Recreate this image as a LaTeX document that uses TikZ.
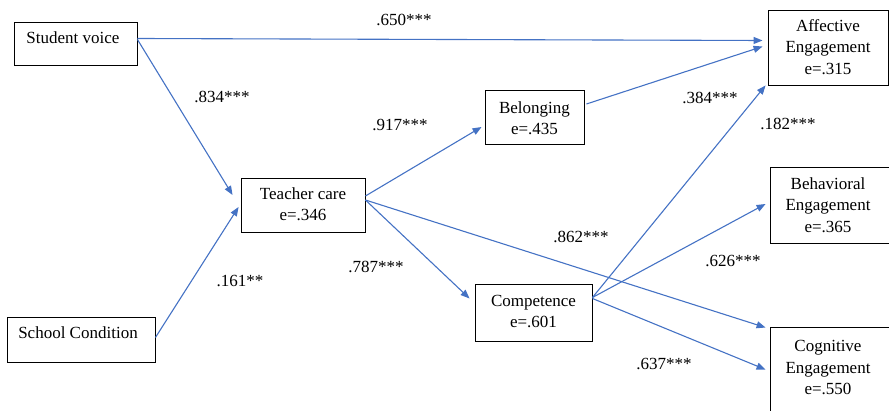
\documentclass[tikz,border=0pt]{standalone}
\usepackage{fontspec}
\setmainfont{Liberation Serif}
\usetikzlibrary{arrows.meta}
\definecolor{arrowblue}{HTML}{4472C4}
\tikzset{
  box/.style={draw=black, line width=0.9pt, rectangle, inner sep=0pt},
  txt/.style={inner sep=0pt, align=center, font=\fontsize{17}{21.5}\selectfont},
  coef/.style={inner sep=0pt, font=\fontsize{17}{21.5}\selectfont},
  path/.style={draw=arrowblue, line width=1.1pt, -{Triangle[length=9pt,width=7pt]}},
}
\begin{document}
\begin{tikzpicture}[x=1pt,y=-1pt]
\useasboundingbox (0,0) rectangle (889,411);
% boxes
\node[box, minimum width=123pt, minimum height=43pt] (sv) at (75.5,43.5) {};
\node[txt] (svt) at (73,38) {Student voice};
\node[box, minimum width=148pt, minimum height=45pt] (sc) at (81,339.5) {};
\node[txt] (sct) at (78,333) {School Condition};
\node[box, minimum width=124pt, minimum height=54pt] (tc) at (303,205) {};
\node[txt] (tct) at (303,204) {Teacher care\\e=.346};
\node[box, minimum width=99pt, minimum height=54pt] (bel) at (534.5,117) {};
\node[txt] (belt) at (534.5,118) {Belonging\\e=.435};
\node[box, minimum width=117pt, minimum height=57pt] (comp) at (533.5,312.5) {};
\node[txt] (compt) at (533.5,311.5) {Competence\\e=.601};
\node[box, minimum width=120pt, minimum height=75pt] (aff) at (828,47.5) {};
\node[txt] (afft) at (828,47) {Affective\\Engagement\\e=.315};
\node[box, minimum width=130pt, minimum height=76pt] (beh) at (835,205) {};
\node[txt] (beht) at (828,205) {Behavioral\\Engagement\\e=.365};
\node[box, minimum width=130pt, minimum height=100pt] (cog) at (835,377) {};
\node[txt] (cogt) at (828,367.5) {Cognitive\\Engagement\\e=.550};
% connectors
\draw[path] ([yshift=5pt]sv.east) -- ([xshift=-5pt,yshift=7pt]aff.west);
\draw[path] ([yshift=4pt]sv.east) -- ([xshift=-8pt,yshift=10pt]tc.west);
\draw[path] ([yshift=2pt]sc.east) -- ([xshift=-2pt,yshift=-2pt]tc.west);
\draw[path] ([yshift=9pt]tc.east) -- ([xshift=-3pt,yshift=-10pt]bel.west);
\draw[path] ([yshift=5pt]tc.east) -- ([xshift=-5pt,yshift=14pt]comp.west);
\draw[path] ([yshift=5pt]tc.east) -- ([xshift=-4pt,yshift=-1pt]cog.north west);
\draw[path] ([xshift=2pt,yshift=13pt]bel.east) -- ([xshift=-5pt,yshift=1pt]aff.west);
\draw[path] ([yshift=15pt]comp.east) -- ([xshift=-2pt]aff.south west);
\draw[path] ([yshift=15pt]comp.east) -- ([xshift=-4pt,yshift=1pt]beh.west);
\draw[path] ([yshift=14pt]comp.east) -- ([xshift=-4pt,yshift=-43pt]cog.north west);
% coefficients
\node[coef] (c1) at (404,20) {.650***};
\node[coef] (c2) at (222,97) {.834***};
\node[coef] (c3) at (240,281) {.161**};
\node[coef] (c4) at (400,125) {.917***};
\node[coef] (c5) at (376,267) {.787***};
\node[coef] (c6) at (581,237) {.862***};
\node[coef] (c7) at (710,98) {.384***};
\node[coef] (c8) at (788,124) {.182***};
\node[coef] (c9) at (733,261) {.626***};
\node[coef] (c10) at (664,364) {.637***};
\end{tikzpicture}
\end{document}
